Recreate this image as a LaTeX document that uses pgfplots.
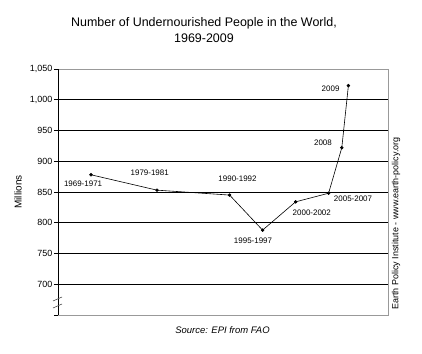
\documentclass[border=0pt]{standalone}
\usepackage{fontspec}
\setmainfont{Liberation Sans}
\usepackage{pgfplots}
\pgfplotsset{compat=1.18}
\begin{document}
\begin{tikzpicture}
\begin{axis}[
 scale only axis, width=330bp, height=246bp,
 xmin=1965, xmax=2015, ymin=650, ymax=1050,
 xtick=\empty,
 ytick={650,700,...,1050},
 yticklabels={,700,750,800,850,900,950,{1,000},{1,050}},
 ytick pos=left, tick align=outside, major tick length=4bp,
 tick style={black, line width=0.6pt},
 yticklabel style={font=\fontsize{9}{10}\selectfont, inner sep=1.5bp},
 ymajorgrids, grid style={black, line width=0.8pt},
 axis line style={draw=none},
 clip=false,
]
\draw[gray!80, line width=0.6pt] (rel axis cs:0,0) rectangle (rel axis cs:1,1);
\draw[black, line width=0.8pt] (rel axis cs:0,0)--(rel axis cs:0,1);
\addplot[black, line width=0.6pt, mark=*, mark size=1.4pt] coordinates {(1970,878) (1980,853) (1991,845) (1996,788) (2001,834) (2006,848) (2008,922) (2009,1023)};
\begin{scope}[every node/.style={font=\fontsize{8}{9}\selectfont, inner sep=0pt}]
\node at (axis cs:1968.8,862.7) {1969-1971};
\node at (axis cs:1978.9,880.5) {1979-1981};
\node at (axis cs:1992.2,870.8) {1990-1992};
\node at (axis cs:1994.55,770.1) {1995-1997};
\node at (axis cs:2003.45,815.5) {2000-2002};
\node at (axis cs:2009.7,838.3) {2005-2007};
\node at (axis cs:2005.15,929.6) {2008};
\node at (axis cs:2006.3,1017.9) {2009};
\end{scope}
\end{axis}
\draw[gray!60!black, line width=0.6pt] (-5bp,14bp)--(4bp,18bp) (-5bp,7bp)--(4bp,11bp);
\node[rotate=90, font=\fontsize{10}{12}\selectfont] at (-40bp,123bp) {Millions};
\node[rotate=90, font=\fontsize{9}{11}\selectfont] at (338bp,91.5bp) {Earth Policy Institute - www.earth-policy.org};
\node[align=center, font=\fontsize{12.5}{16}\selectfont] at (146bp,285bp) {Number of Undernourished People in the World,\\1969-2009};
\node[font=\fontsize{9.5}{11}\selectfont\itshape] at (164.5bp,-15bp) {Source: EPI from FAO};
\pgfresetboundingbox
\path (-58bp,-39bp) rectangle (364bp,315bp);
\end{tikzpicture}
\end{document}
